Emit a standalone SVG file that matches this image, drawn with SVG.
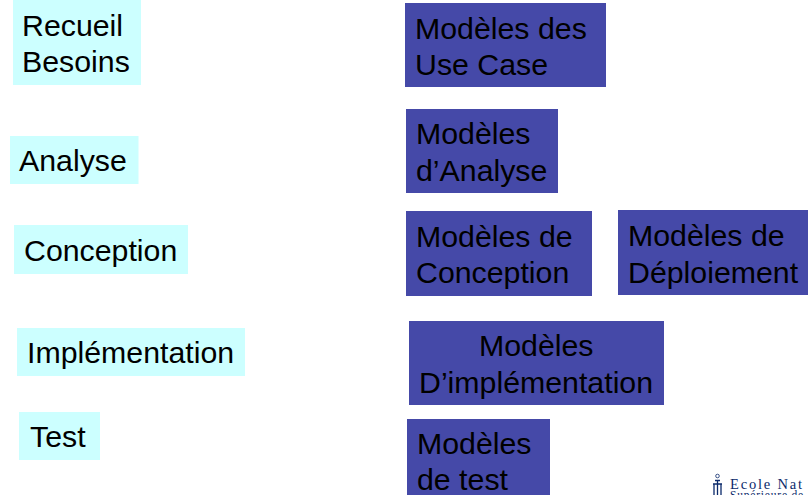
<svg xmlns="http://www.w3.org/2000/svg" width="808" height="495" viewBox="0 0 808 495">
<style>
text{font-family:"Liberation Sans",Arial,sans-serif;font-size:30.300px;fill:#000}
.a{fill:#ccffff}
.m{fill:#4549a8}
text.l{font-family:"Liberation Serif",serif;font-size:14.500px;fill:#0b2a6b;letter-spacing:1.800px}
text.s{font-family:"Liberation Serif",serif;font-size:11.500px;fill:#0b2a6b;letter-spacing:.8px}
</style>
<rect width="808" height="495" fill="#fff"/>
<g id="recueil"><rect class="a" x="13" y="0" width="128" height="85"/><text x="22" y="36">Recueil</text><text x="22" y="72">Besoins</text></g>
<g id="analyse"><rect class="a" x="10" y="136" width="128.500" height="48"/><text x="19" y="171">Analyse</text></g>
<g id="conception"><rect class="a" x="14" y="225" width="174" height="49"/><text x="24" y="261">Conception</text></g>
<g id="implementation"><rect class="a" x="17" y="328" width="228" height="48"/><text x="27" y="363">Implémentation</text></g>
<g id="test"><rect class="a" x="19" y="412" width="81" height="48"/><text x="30" y="447">Test</text></g>
<g id="m-usecase"><rect class="m" x="405" y="3" width="201" height="84"/><text x="415" y="39">Modèles des</text><text x="415" y="75">Use Case</text></g>
<g id="m-analyse"><rect class="m" x="406" y="109" width="152" height="84"/><text x="416" y="144">Modèles</text><text x="416" y="181">d’Analyse</text></g>
<g id="m-conception"><rect class="m" x="406" y="211" width="186" height="85"/><text x="416" y="247">Modèles de</text><text x="416" y="283">Conception</text></g>
<g id="m-deploiement"><rect class="m" x="618" y="210" width="190" height="85"/><text x="628" y="246">Modèles de</text><text x="628" y="283">Déploiement</text></g>
<g id="m-implementation"><rect class="m" x="409" y="321" width="255" height="84"/><text x="479" y="356">Modèles</text><text x="419" y="393">D’implémentation</text></g>
<g id="m-test"><rect class="m" x="407" y="419" width="143" height="76"/><text x="417" y="454">Modèles</text><text x="417" y="490">de test</text></g>
<g id="logo">
<path d="M715 480.500h5M717.500 480.500v14.500M713 484h9M714 484v11M721 484v11" fill="none" stroke="#0b2a6b" stroke-width="1.300"/>
<circle cx="717.500" cy="476" r="1.800" fill="none" stroke="#0b2a6b" stroke-width=".8"/>
<text class="l" x="730" y="489">Ecole Nat</text>
<text class="s" x="730" y="499">Supérieure de</text>
</g>
</svg>
